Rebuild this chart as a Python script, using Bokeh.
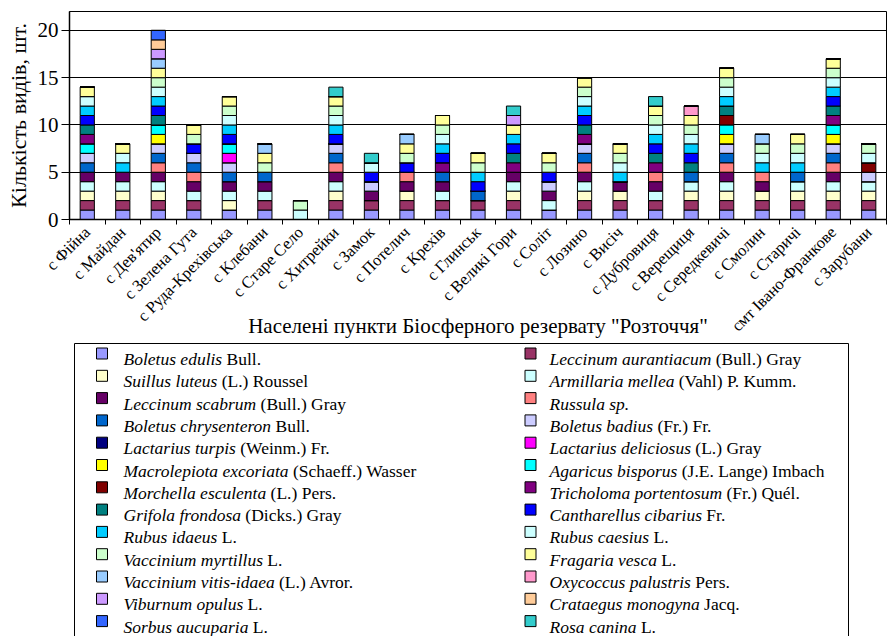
import math
import os
import glob
import subprocess

from bokeh.plotting import figure
from bokeh.models import ColumnDataSource, Range1d, FixedTicker
from bokeh.layouts import column
from bokeh.core.properties import value
from bokeh.embed import file_html
from bokeh.resources import INLINE

# ---------------- data ----------------
villages = [
    "с Фійна", "с Майдан", "с Дев'ятир", "с Зелена Гута", "с Руда-Крехівська",
    "с Клебани", "с Старе Село", "с Хитрейки", "с Замок", "с Потелич",
    "с Крехів", "с Глинськ", "с Великі Гори", "с Соліт", "с Лозино",
    "с Висіч", "с Дубровиця", "с Верещиця", "с Середкевичі", "с Смолин",
    "с Старичі", "смт Івано-Франкове", "с Зарубани",
]

# presence (1) / absence (0) of each species in each village (order as villages)
boletus_edulis         = [1,1,1,1,1,1,0,1,1,1,1,1,1,1,1,1,1,1,1,1,1,1,1]
leccinum_aurantiacum   = [1,1,1,1,0,1,0,1,1,1,1,1,1,0,1,1,1,1,1,1,1,1,1]
suillus_luteus         = [1,1,1,0,1,0,0,1,0,1,0,0,1,0,1,1,0,1,1,1,1,1,1]
armillaria_mellea      = [1,1,1,1,1,1,0,1,0,0,1,0,1,1,1,0,1,1,1,0,1,1,1]
leccinum_scabrum       = [1,1,1,1,1,1,0,1,1,1,1,0,1,1,1,1,1,0,1,1,0,1,0]
russula_sp             = [0,0,1,1,0,0,0,1,0,1,0,0,0,0,1,0,1,0,1,1,0,1,0]
boletus_chrysenteron   = [1,0,1,1,1,1,0,1,0,0,1,1,0,0,1,0,0,1,1,0,1,1,0]
boletus_badius         = [1,0,1,1,1,0,0,1,1,0,0,0,0,1,1,0,0,0,1,0,0,1,1]
lactarius_turpis       = [0,0,0,0,0,0,0,0,0,0,0,0,0,0,0,0,0,0,0,0,0,0,0]
lactarius_deliciosus   = [0,0,0,0,1,0,0,0,0,0,0,0,0,0,0,0,0,0,0,0,0,0,0]
macrolepiota_excoriata = [0,0,1,0,0,0,0,0,0,0,0,0,0,0,0,0,0,0,1,0,0,1,0]
agaricus_bisporus      = [1,0,1,0,1,0,0,0,0,0,0,0,0,0,0,0,0,0,1,0,0,1,0]
morchella_esculenta    = [0,0,0,0,0,0,0,0,0,0,0,0,0,0,0,0,0,0,1,0,0,0,1]
tricholoma_portentosum = [1,0,0,0,0,0,0,0,0,0,1,0,1,0,1,0,1,0,0,0,0,1,0]
grifola_frondosa       = [1,0,1,0,0,0,0,0,0,0,0,0,1,0,1,0,1,1,1,0,0,1,0]
cantharellus_cibarius  = [1,0,1,1,1,0,0,1,1,1,1,1,1,1,1,0,1,1,0,0,0,1,0]
rubus_idaeus           = [1,1,1,0,1,0,0,1,0,0,1,1,1,0,1,1,1,1,1,1,1,1,0]
rubus_caesius          = [1,1,1,0,1,0,1,1,1,0,1,0,0,0,1,1,1,1,1,1,1,1,1]
vaccinium_myrtillus    = [0,0,1,1,1,1,1,1,0,1,1,1,0,1,1,1,1,1,1,1,1,1,1]
fragaria_vesca         = [1,1,1,1,1,1,0,1,0,1,1,1,1,1,1,1,1,1,1,0,1,1,0]
vaccinium_vitis_idaea  = [0,0,1,0,0,1,0,0,0,1,0,0,0,0,0,0,0,0,0,1,0,0,0]
oxycoccus_palustris    = [0,0,0,0,0,0,0,0,0,0,0,0,0,0,0,0,0,1,0,0,0,0,0]
viburnum_opulus        = [0,0,1,0,0,0,0,0,0,0,0,0,1,0,0,0,0,0,0,0,0,0,0]
crataegus_monogyna     = [0,0,1,0,0,0,0,0,0,0,0,0,0,0,0,0,0,0,0,0,0,0,0]
sorbus_aucuparia       = [0,0,1,0,0,0,0,0,0,0,0,0,0,0,0,0,0,0,0,0,0,0,0]
rosa_canina            = [0,0,0,0,0,0,0,1,1,0,0,0,1,0,0,0,1,0,0,0,0,0,0]

series = [
    boletus_edulis, leccinum_aurantiacum, suillus_luteus, armillaria_mellea,
    leccinum_scabrum, russula_sp, boletus_chrysenteron, boletus_badius,
    lactarius_turpis, lactarius_deliciosus, macrolepiota_excoriata, agaricus_bisporus,
    morchella_esculenta, tricholoma_portentosum, grifola_frondosa, cantharellus_cibarius,
    rubus_idaeus, rubus_caesius, vaccinium_myrtillus, fragaria_vesca,
    vaccinium_vitis_idaea, oxycoccus_palustris, viburnum_opulus, crataegus_monogyna,
    sorbus_aucuparia, rosa_canina,
]

species_latin = [
    "Boletus edulis", "Leccinum aurantiacum", "Suillus luteus", "Armillaria mellea",
    "Leccinum scabrum", "Russula sp.", "Boletus chrysenteron", "Boletus badius",
    "Lactarius turpis", "Lactarius deliciosus", "Macrolepiota excoriata", "Agaricus bisporus",
    "Morchella esculenta", "Tricholoma portentosum", "Grifola frondosa", "Cantharellus cibarius",
    "Rubus idaeus", "Rubus caesius", "Vaccinium myrtillus", "Fragaria vesca",
    "Vaccinium vitis-idaea", "Oxycoccus palustris", "Viburnum opulus", "Crataegus monogyna",
    "Sorbus aucuparia", "Rosa canina",
]
species_author = [
    "Bull.", "(Bull.) Gray", "(L.) Roussel", "(Vahl) P. Kumm.",
    "(Bull.) Gray", "", "Bull.", "(Fr.) Fr.",
    "(Weinm.) Fr.", "(L.) Gray", "(Schaeff.) Wasser", "(J.E. Lange) Imbach",
    "(L.) Pers.", "(Fr.) Quél.", "(Dicks.) Gray", "Fr.",
    "L.", "L.", "L.", "L.",
    "(L.) Avror.", "Pers.", "L.", "Jacq.",
    "L.", "L.",
]
colors = [
    "#9999FF", "#993366", "#FFFFCC", "#CCFFFF", "#660066", "#FF8080", "#0066CC", "#CCCCFF",
    "#000080", "#FF00FF", "#FFFF00", "#00FFFF", "#800000", "#800080", "#008080", "#0000FF",
    "#00CCFF", "#CCFFFF", "#CCFFCC", "#FFFF99", "#99CCFF", "#FF99CC", "#CC99FF", "#FFCC99",
    "#3366FF", "#33CCCC",
]

y_ticks = [0, 5, 10, 15, 20]
y_max = 22
x_title = 'Населені пункти Біосферного резервату "Розточчя"'
y_title = "Кількість видів, шт."

# ---------------- layout constants ----------------
W = 887
H1 = 340
H2 = 296
BL, BR = 69, 1          # left / right borders shared by both panels
FONT = "Liberation Serif"
LEG_FS = 17.5

# ---------------- text measuring (for mixed italic / regular legend labels) ----------------
def _font_path(fname, fcname):
    for pat in ("/usr/share/fonts/**/" + fname, "/usr/local/share/fonts/**/" + fname,
                os.path.expanduser("~/.fonts/**/") + fname):
        hits = glob.glob(pat, recursive=True)
        if hits:
            return hits[0]
    try:
        out = subprocess.run(["fc-match", "-f", "%{file}", fcname], capture_output=True,
                             text=True, timeout=5).stdout.strip()
        if out and os.path.exists(out):
            return out
    except Exception:
        pass
    return None

try:
    from PIL import ImageFont
    _fp = _font_path("LiberationSerif-Italic.ttf", "Liberation Serif:italic")
    _font = ImageFont.truetype(_fp, 100)

    def measure(s):
        return _font.getlength(s) * LEG_FS / 100.0
except Exception:
    def measure(s):
        return 0.40 * LEG_FS * len(s)

# ---------------- main chart ----------------
n = len(villages)
x_pos = [i + 0.5 for i in range(n)]
names = ["s%d" % k for k in range(len(series))]
data = dict(x=x_pos)
for nm, vals in zip(names, series):
    data[nm] = vals
src = ColumnDataSource(data)

p = figure(width=W, height=H1, x_range=Range1d(0, n), y_range=Range1d(0, y_max),
           output_backend="svg", toolbar_location=None,
           min_border_left=BL, min_border_right=BR, min_border_top=11,
           min_border_bottom=H1 - 11 - 211)
p.background_fill_color = "white"
p.border_fill_color = "white"
p.outline_line_color = "black"
p.outline_line_width = 1

p.vbar_stack(names, x="x", width=0.4, source=src, fill_color=colors,
             line_color="black", line_width=1)

# y axis
yt = FixedTicker(ticks=y_ticks, minor_ticks=[])
p.yaxis.ticker = yt
p.ygrid.ticker = yt
p.ygrid.grid_line_color = "black"
p.ygrid.grid_line_width = 1
p.xgrid.grid_line_color = None
p.yaxis.axis_line_color = "black"
p.yaxis.axis_line_width = 1.5
p.yaxis.major_tick_line_color = "black"
p.yaxis.major_tick_out = 8
p.yaxis.major_tick_in = 0
p.yaxis.minor_tick_line_color = None
p.yaxis.major_label_standoff = 3
p.yaxis.major_label_text_font = FONT
p.yaxis.major_label_text_font_size = "21px"
p.yaxis.major_label_text_color = "black"
p.yaxis.axis_label = y_title
p.yaxis.axis_label_text_font = FONT
p.yaxis.axis_label_text_font_size = "22px"
p.yaxis.axis_label_text_font_style = "normal"
p.yaxis.axis_label_text_color = "black"
p.yaxis.axis_label_standoff = 4

# x axis: labels at category centres, tick marks at category boundaries
xt = FixedTicker(ticks=x_pos, minor_ticks=list(range(n + 1)))
p.xaxis.ticker = xt
p.xaxis.major_label_overrides = {x: lab for x, lab in zip(x_pos, villages)}
p.xaxis.major_label_orientation = math.pi / 4
p.xaxis.major_tick_line_color = None
p.xaxis.major_tick_out = 5
p.xaxis.major_tick_in = 0
p.xaxis.minor_tick_line_color = "black"
p.xaxis.minor_tick_out = 5
p.xaxis.minor_tick_in = 0
p.xaxis.axis_line_color = "black"
p.xaxis.axis_line_width = 1.5
p.xaxis.major_label_standoff = 5
p.xaxis.major_label_text_font = FONT
p.xaxis.major_label_text_font_size = "16.5px"
p.xaxis.major_label_text_color = "black"
p.xaxis.axis_label = x_title
p.xaxis.axis_label_text_font = FONT
p.xaxis.axis_label_text_font_size = "21px"
p.xaxis.axis_label_text_font_style = "normal"
p.xaxis.axis_label_text_color = "black"
p.xaxis.axis_label_standoff = -31

# ---------------- legend (two columns, row-major like the original) ----------------
# panel coordinates: x in page pixels, y in pixels from the panel top
p2 = figure(width=W, height=H2, x_range=Range1d(BL, W - BR), y_range=Range1d(H2, 0),
            output_backend="svg", toolbar_location=None,
            min_border_left=BL, min_border_right=BR, min_border_top=0, min_border_bottom=0,
            x_axis_location=None, y_axis_location=None)
p2.outline_line_color = None
p2.grid.visible = False
p2.background_fill_color = "white"
p2.border_fill_color = "white"

box_left, box_right, box_top = 74, 848, 3
p2.quad(left=[box_left], right=[box_right], top=[box_top], bottom=[H2 + 20],
        fill_color=None, line_color="black", line_width=1)

row0, pitch = 13.0, 22.3
col_marker_x = [101.5, 530.0]
col_text_x = [123.0, 549.0]
mk_x, mk_y, mk_c = [], [], []
t1_x, t1_y, t1_s = [], [], []
t2_x, t2_y, t2_s = [], [], []
for k, (lat, auth, col) in enumerate(zip(species_latin, species_author, colors)):
    r, c = divmod(k, 2)
    yc = row0 + pitch * r
    mk_x.append(col_marker_x[c]); mk_y.append(yc); mk_c.append(col)
    t1_x.append(col_text_x[c]); t1_y.append(yc + 5.5); t1_s.append(lat)
    if auth:
        t2_x.append(col_text_x[c] + measure(lat + " ")); t2_y.append(yc + 5.5); t2_s.append(auth)

p2.rect(x=mk_x, y=mk_y, width=11, height=11, fill_color=mk_c, line_color="black", line_width=1)
p2.text(x=t1_x, y=t1_y, text=t1_s, text_font=value(FONT), text_font_style="italic",
        text_font_size="%.1fpx" % LEG_FS, text_baseline="alphabetic", text_align="left",
        text_color="black")
p2.text(x=t2_x, y=t2_y, text=t2_s, text_font=value(FONT), text_font_style="normal",
        text_font_size="%.1fpx" % LEG_FS, text_baseline="alphabetic", text_align="left",
        text_color="black")

layout = column(p, p2)
open("out.html", "w", encoding="utf-8").write(file_html(layout, INLINE))
